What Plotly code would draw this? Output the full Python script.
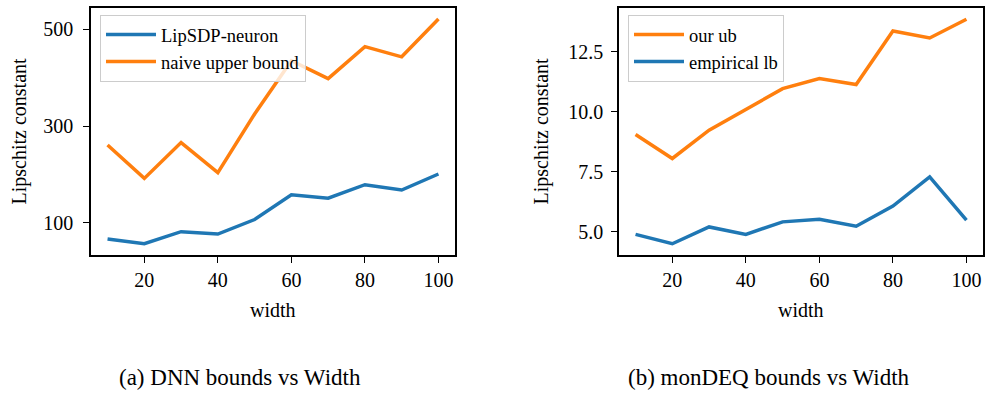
import plotly.graph_objects as go

widths = [10, 20, 30, 40, 50, 60, 70, 80, 90, 100]
lipsdp_neuron = [67, 57, 82, 77, 107, 158, 151, 179, 168, 201]
naive_upper = [261, 192, 266, 204, 325, 435, 398, 464, 443, 521]
our_ub = [9.06, 8.06, 9.24, 10.1, 10.97, 11.39, 11.14, 13.37, 13.08, 13.86]
empirical_lb = [4.90, 4.51, 5.21, 4.90, 5.42, 5.53, 5.24, 6.08, 7.29, 5.49]

x_ticks = [20, 40, 60, 80, 100]
y_ticks_a = [100, 300, 500]
y_ticks_b = [5.0, 7.5, 10.0, 12.5]
captions = ["(a) DNN bounds vs Width", "(b) monDEQ bounds vs Width"]

BLUE = "#1f77b4"
ORANGE = "#ff7f0e"
FONT = "'Liberation Serif', 'Times New Roman', Times, serif"
W, H = 985, 394

fig = go.Figure()
fig.add_trace(go.Scatter(x=widths, y=lipsdp_neuron, mode="lines", name="LipSDP-neuron",
                         line=dict(color=BLUE, width=3.5), xaxis="x", yaxis="y", legend="legend"))
fig.add_trace(go.Scatter(x=widths, y=naive_upper, mode="lines", name="naive upper bound",
                         line=dict(color=ORANGE, width=3.5), xaxis="x", yaxis="y", legend="legend"))
fig.add_trace(go.Scatter(x=widths, y=our_ub, mode="lines", name="our ub",
                         line=dict(color=ORANGE, width=3.5), xaxis="x2", yaxis="y2", legend="legend2"))
fig.add_trace(go.Scatter(x=widths, y=empirical_lb, mode="lines", name="empirical lb",
                         line=dict(color=BLUE, width=3.5), xaxis="x2", yaxis="y2", legend="legend2"))

y_top = 1 - 8 / H
y_bot = 1 - 255 / H

axis_common = dict(showline=True, linecolor="black", linewidth=1.6, mirror=True,
                   ticks="outside", ticklen=6, tickwidth=1.4, tickcolor="black",
                   showgrid=False, zeroline=False,
                   tickfont=dict(family=FONT, size=20, color="black"))

leg_common = dict(xanchor="left", yanchor="top", y=1 - 15 / H,
                  bgcolor="rgba(255,255,255,0.8)", bordercolor="#cccccc", borderwidth=1,
                  font=dict(family=FONT, size=18.5, color="black"), tracegroupgap=0,
                  itemwidth=50)

fig.update_layout(
    width=W, height=H,
    margin=dict(l=0, r=0, t=0, b=0),
    paper_bgcolor="white", plot_bgcolor="white",
    font=dict(family=FONT, size=20, color="black"),
    xaxis=dict(domain=[91 / W, 455 / W], range=[5.5, 104.5], tickvals=x_ticks,
               anchor="y", **axis_common),
    yaxis=dict(domain=[y_bot, y_top], range=[33.8, 543.8], tickvals=y_ticks_a,
               anchor="x", ticklabelstandoff=6, **axis_common),
    xaxis2=dict(domain=[619 / W, 983 / W], range=[5.5, 104.5], tickvals=x_ticks,
                anchor="y2", **axis_common),
    yaxis2=dict(domain=[y_bot, y_top], range=[4.04, 14.33], tickvals=y_ticks_b,
                ticktext=[f"{v:.1f}" for v in y_ticks_b],
                anchor="x2", ticklabelstandoff=4, **axis_common),
    legend=dict(x=100 / W, **leg_common),
    legend2=dict(x=628 / W, **leg_common),
    showlegend=True,
)

ann = []
for xc in [273 / W, 801 / W]:
    ann.append(dict(text="width", x=xc, y=1 - 310 / H, xref="paper", yref="paper",
                    showarrow=False, xanchor="center", yanchor="middle",
                    font=dict(family=FONT, size=20, color="black")))
for xc in [19 / W, 541 / W]:
    ann.append(dict(text="Lipschitz constant", x=xc, y=(y_top + y_bot) / 2, xref="paper", yref="paper",
                    showarrow=False, xanchor="center", yanchor="middle", textangle=-90,
                    font=dict(family=FONT, size=20, color="black")))
for cap, xc in zip(captions, [240 / W, 769 / W]):
    ann.append(dict(text=cap, x=xc, y=1 - 377 / H, xref="paper", yref="paper",
                    showarrow=False, xanchor="center", yanchor="middle",
                    font=dict(family=FONT, size=23, color="black")))
fig.update_layout(annotations=ann)

fig.write_html("out.html")
